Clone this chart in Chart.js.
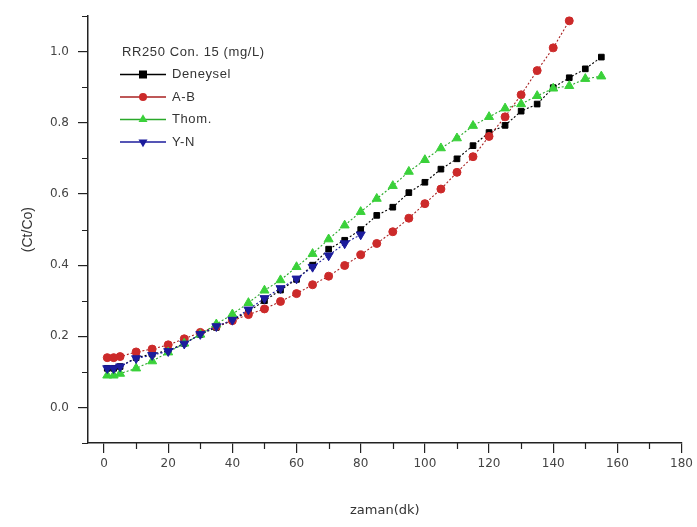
<!DOCTYPE html>
<html><head><meta charset="utf-8">
<script src="https://cdn.jsdelivr.net/npm/chart.js@4.4.1/dist/chart.umd.min.js"></script>
<style>html,body{margin:0;padding:0;background:#fff}#wrap{width:697px;height:527px;position:relative}</style>
</head><body><div id="wrap"><canvas id="c"></canvas></div>
<script>
// ---- data ----
const times = [1,3,5,10,15,20,25,30,35,40,45,50,55,60,65,70,75,80,85,90,95,100,105,110,115,120,125,130,135,140,145,150,155];
const deneysel = [0.11,0.11,0.115,0.14,0.15,0.16,0.18,0.205,0.225,0.245,0.27,0.30,0.33,0.36,0.40,0.445,0.47,0.50,0.54,0.563,0.604,0.633,0.67,0.699,0.736,0.773,0.793,0.833,0.853,0.899,0.927,0.952,0.985];
const ab = [0.14,0.14,0.143,0.156,0.164,0.176,0.193,0.211,0.228,0.244,0.261,0.277,0.298,0.32,0.345,0.369,0.399,0.429,0.461,0.494,0.532,0.573,0.614,0.661,0.705,0.762,0.817,0.879,0.947,1.011,1.087];
const thom = [0.09,0.09,0.095,0.11,0.13,0.155,0.18,0.205,0.234,0.262,0.294,0.329,0.358,0.395,0.432,0.473,0.512,0.55,0.587,0.623,0.663,0.696,0.729,0.757,0.792,0.817,0.841,0.853,0.876,0.897,0.904,0.924,0.931];
const yn = [0.11,0.11,0.115,0.138,0.147,0.158,0.179,0.206,0.228,0.246,0.275,0.307,0.335,0.362,0.395,0.427,0.461,0.486];
const seriesNames = ['Deneysel','A-B','Thom.','Y-N'];
const legendTitle = 'RR250 Con. 15 (mg/L)';
const xTitle = 'zaman(dk)';
const yTitle = '(Ct/Co)';
const xMajor = [0,20,40,60,80,100,120,140,160,180];
const xMinor = [10,30,50,70,90,110,130,150,170];
const yMajor = [0,0.2,0.4,0.6,0.8,1.0];
const yMinor = [-0.1,0.1,0.3,0.5,0.7,0.9,1.1];

const toPts = (vals) => vals.map((v,i)=>({x:times[i], y:v}));

function ds(label, vals, color, lineColor, style, radius, rotation, order){
  return {label, data:toPts(vals), borderColor:lineColor, backgroundColor:color,
    pointBackgroundColor:color, pointBorderColor:color, pointBorderWidth:1,
    pointStyle:style, pointRadius:radius, pointRotation:rotation, borderWidth:1.1,
    borderDash:[2,2], showLine:true, fill:false, tension:0, order};
}
const datasets = [
  ds(seriesNames[0], deneysel, '#000000', '#000000', 'rect', 4, 0, 3),
  ds(seriesNames[1], ab, '#cc2a2a', '#a82020', 'circle', 4, 0, 2),
  ds(seriesNames[2], thom, '#3ad13a', '#2aa82a', 'triangle', 5.2, 0, 1),
  ds(seriesNames[3], yn, '#1c1c9c', '#1c1c9c', 'triangle', 5.2, 180, 0)
];

const minorTicks = {
  id:'minorTicks',
  afterDraw(chart){
    const ctx = chart.ctx, xs = chart.scales.x, ys = chart.scales.y, a = chart.chartArea;
    ctx.save(); ctx.strokeStyle = '#222'; ctx.lineWidth = 1.2;
    ctx.beginPath();
    xMinor.forEach(v=>{const p = Math.round(xs.getPixelForValue(v))+0.5; ctx.moveTo(p,a.bottom); ctx.lineTo(p,a.bottom+6);});
    yMinor.forEach(v=>{const p = Math.round(ys.getPixelForValue(v))+0.5; ctx.moveTo(a.left-6,p); ctx.lineTo(a.left,p);});
    ctx.stroke(); ctx.restore();
  }
};

const legendPlugin = {
  id:'customLegend',
  afterDatasetsDraw(chart){
    const ctx = chart.ctx;
    ctx.save();
    ctx.font = "13px 'Liberation Sans', Arial, sans-serif";
    try{ ctx.letterSpacing = '0.6px'; }catch(e){}
    ctx.fillStyle = '#333'; ctx.textBaseline = 'middle'; ctx.textAlign = 'left';
    const x0 = 120, y0 = 52, step = 22.5;
    ctx.fillText(legendTitle, x0+2, y0);
    chart.data.datasets.forEach((d,i)=>{
      const y = y0 + step*(i+1);
      ctx.strokeStyle = d.borderColor; ctx.lineWidth = 1.4; ctx.setLineDash([]);
      ctx.beginPath(); ctx.moveTo(x0, y); ctx.lineTo(x0+46, y); ctx.stroke();
      ctx.fillStyle = d.pointBackgroundColor;
      const r = d.pointRadius;
      ctx.beginPath();
      if (d.pointStyle==='rect'){ ctx.rect(x0+23-r, y-r, 2*r, 2*r); }
      else if (d.pointStyle==='circle'){ ctx.arc(x0+23, y, r, 0, Math.PI*2); }
      else {
        const s = d.pointRotation===180 ? -1 : 1;
        ctx.moveTo(x0+23, y - s*r); ctx.lineTo(x0+23 - r*0.87, y + s*r*0.5); ctx.lineTo(x0+23 + r*0.87, y + s*r*0.5); ctx.closePath();
      }
      ctx.fill();
      ctx.fillStyle = '#333';
      ctx.fillText(d.label, x0+52, y);
    });
    ctx.restore();
  }
};

new Chart(document.getElementById('c'), {
  type:'scatter',
  data:{datasets},
  options:{
    responsive:true, maintainAspectRatio:false, animation:false,
    layout:{padding:{top:7,right:15,left:0,bottom:0}},
    plugins:{legend:{display:false}, tooltip:{enabled:false}},
    scales:{
      x:{type:'linear', min:-5, max:180,
        afterBuildTicks: s => { s.ticks = xMajor.map(v=>({value:v})); },
        afterFit: s => { s.height = 84; },
        grid:{drawOnChartArea:false, drawTicks:true, tickLength:10, color:'#222', lineWidth:1.2},
        border:{display:true, color:'#222', width:1.5},
        ticks:{padding:4, color:'#444', font:{family:"'DejaVu Sans', sans-serif", size:12}, maxRotation:0, callback:v=>String(v)},
        title:{display:true, text:xTitle, color:'#333', font:{family:"'DejaVu Sans', sans-serif", size:13}, padding:{top:9,bottom:9}}
      },
      y:{type:'linear', min:-0.1, max:1.1,
        afterBuildTicks: s => { s.ticks = yMajor.map(v=>({value:v})); },
        afterFit: s => { s.width = 88; },
        grid:{drawOnChartArea:false, drawTicks:true, tickLength:10, color:'#222', lineWidth:1.2},
        border:{display:true, color:'#222', width:1.5},
        ticks:{padding:9, color:'#444', font:{family:"'DejaVu Sans', sans-serif", size:12}, callback:v=>Number(v).toFixed(1)},
        title:{display:true, text:yTitle, color:'#333', font:{family:"'Liberation Sans', Arial, sans-serif", size:14}, padding:{top:20,bottom:0}}
      }
    }
  },
  plugins:[minorTicks, legendPlugin]
});
</script></body></html>
